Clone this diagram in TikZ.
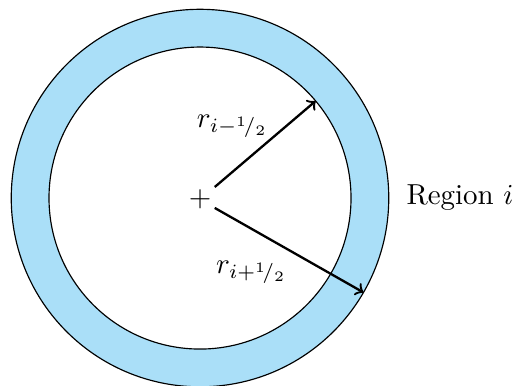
\documentclass[tikz,border=0pt]{standalone}
\usepackage{tikz}
\usepackage{xcolor}
\definecolor{ringc}{HTML}{AADFF8}

\begin{document}
\begin{tikzpicture}[x=0.917cm, y=0.917cm]
  \tikzset{rad/.style={->, thick, shorten >=0pt}}
  \useasboundingbox (-2.649,-2.477) rectangle (4.172,2.623);
  % shell between the two cell faces
  \fill[ringc, even odd rule] (0,0) circle (2.5) (0,0) circle (2);
  \draw (0,0) circle (2.5);
  \draw (0,0) circle (2);
  \node[inner sep=1pt] (c) at (0,-0.02) {$+$};
  \coordinate (inner) at (40:2);
  \coordinate (outer) at (-30:2.5);

  % radii
  \draw[rad] (c) -- (inner) node[pos=0.55, above left, xshift=3pt, yshift=-3pt] {$r_{i-{}^{1}\!/_{2}}$};
  \draw[rad] (c) -- (outer) node[midway, below left, xshift=3pt] {$r_{i+{}^{1}\!/_{2}}$};
  \node[anchor=west] (reg) at (2.6,0) {Region $i$};
\end{tikzpicture}
\end{document}
